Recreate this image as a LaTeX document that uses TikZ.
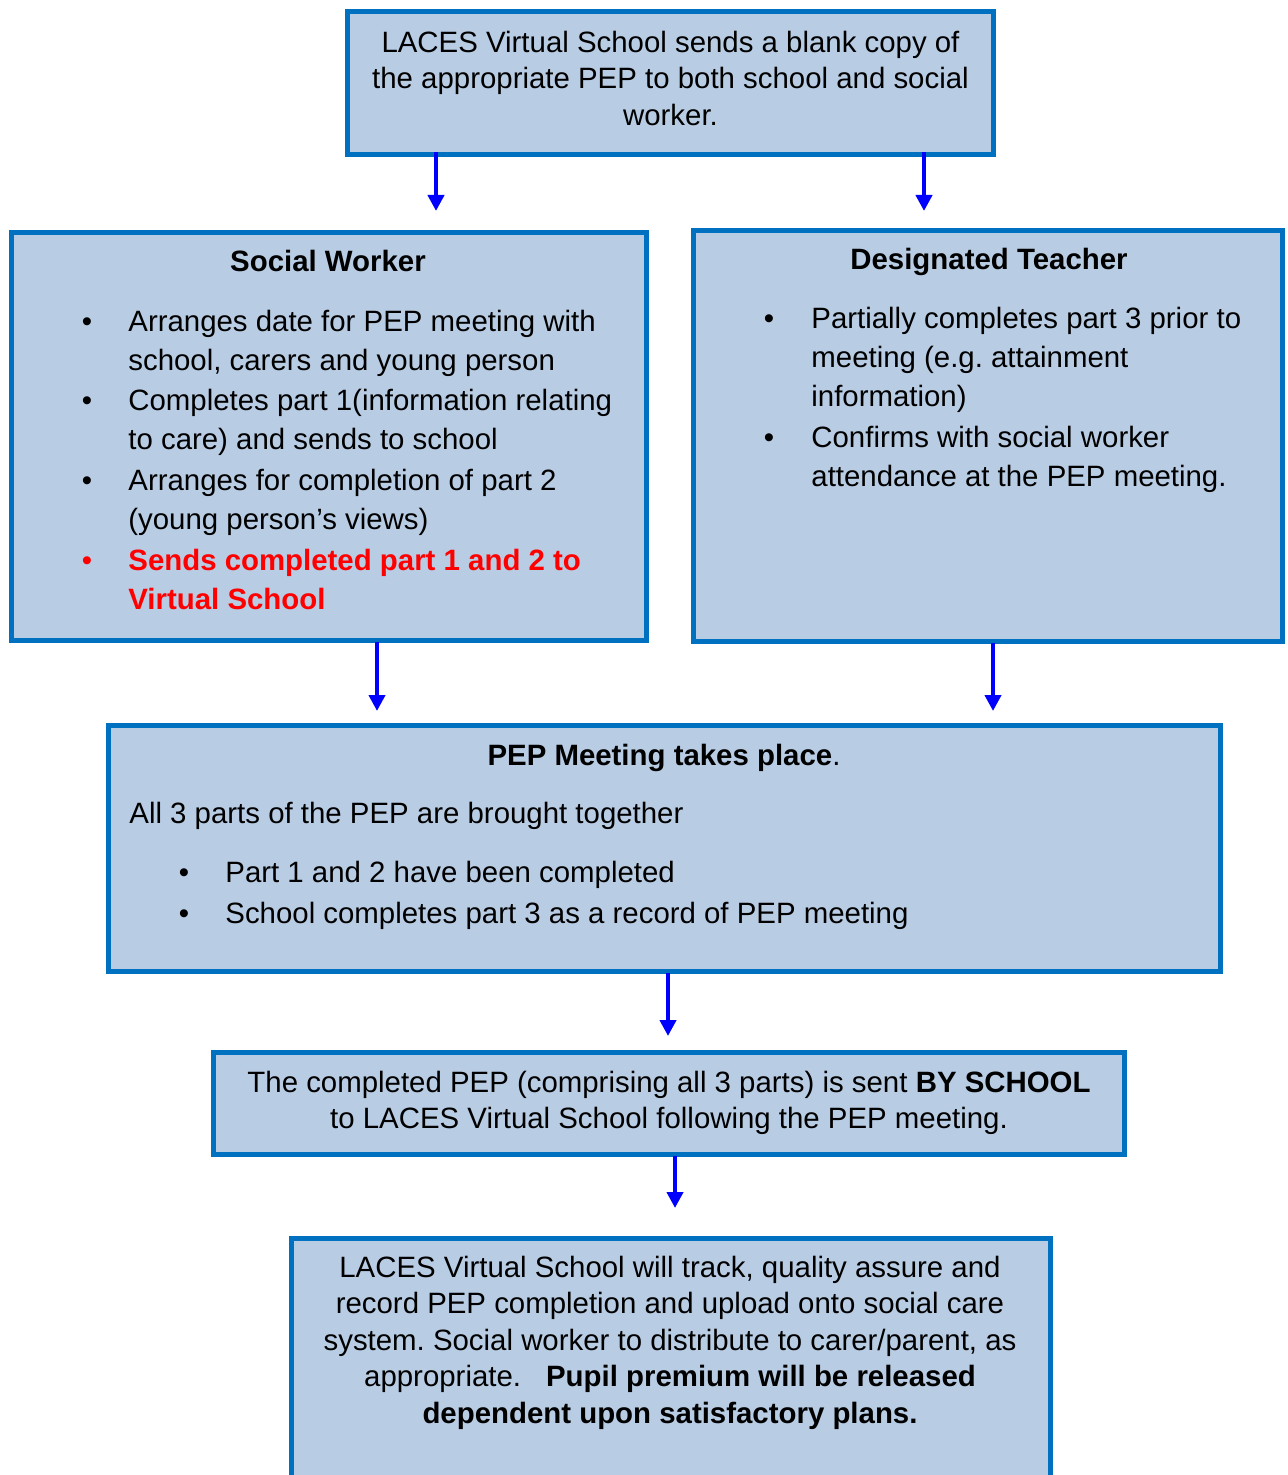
\documentclass[tikz,border=0pt]{standalone}
\usepackage{fontspec}
\setmainfont{Liberation Sans}
\frenchspacing
\usetikzlibrary{arrows.meta}
\definecolor{boxline}{HTML}{0070C0}
\definecolor{boxfill}{HTML}{B8CCE4}
\definecolor{arrblue}{HTML}{0000FF}
\definecolor{redtxt}{HTML}{FF0000}
\tikzset{
  flowbox/.style={draw=boxline, fill=boxfill, line width=2.5pt, inner sep=0pt},
  txt/.style={inner sep=0pt, anchor=base, font=\fontsize{14.7}{17}\selectfont},
  txtl/.style={txt, anchor=base west},
  bul/.style={txt},
  flowarr/.style={draw=arrblue, line width=2pt, -{Triangle[width=8pt,length=8pt]}},
}
\begin{document}
\begin{tikzpicture}[x=0.5pt,y=-0.5pt]
\useasboundingbox (0,0) rectangle (1287,1475);
% boxes
\path[flowbox] (347.5,11.5) rectangle (993.5,154.5);
\node[inner sep=0pt, minimum width=323pt, minimum height=71.5pt] (top) at (670.5,83) {};
\path[flowbox] (11.5,232.5) rectangle (646.5,640.5);
\node[inner sep=0pt, minimum width=317.5pt, minimum height=204pt] (sw) at (329,436.5) {};
\path[flowbox] (693.5,230.5) rectangle (1282.5,641.5);
\node[inner sep=0pt, minimum width=294.5pt, minimum height=205.5pt] (dt) at (988,436) {};
\path[flowbox] (108.5,725.5) rectangle (1220.5,971.5);
\node[inner sep=0pt, minimum width=556pt, minimum height=123pt] (pep) at (664.5,848.5) {};
\path[flowbox] (213.5,1052.5) rectangle (1124.5,1154.5);
\node[inner sep=0pt, minimum width=455.5pt, minimum height=51pt] (done) at (669,1103.5) {};
\path[flowbox] (291.5,1238.5) rectangle (1050.5,1500);
\node[inner sep=0pt, minimum width=379.5pt, minimum height=130pt] (track) at (671,1369) {};

% top text
\node[txt] (t1) at (670.5,53) {LACES Virtual School sends a blank copy of};
\node[txt] (t2) at (670.5,89) {the appropriate PEP to both school and social};
\node[txt] (t3) at (670.5,126) {worker.};

% social worker
\node[txt] (swh) at (328,272) {\bfseries Social Worker};
\node[bul] (swb1) at (87,332) {•};
\node[txtl] (sw1) at (128,332) {Arranges date for PEP meeting with};
\node[txtl] (sw2) at (128,371) {school, carers and young person};
\node[bul] (swb2) at (87,411) {•};
\node[txtl] (sw3) at (128,411) {Completes part 1(information relating};
\node[txtl] (sw4) at (128,450) {to care) and sends to school};
\node[bul] (swb3) at (87,491) {•};
\node[txtl] (sw5) at (128,491) {Arranges for completion of part 2};
\node[txtl] (sw6) at (128,530) {(young person’s views)};
\node[bul, text=redtxt] (swb4) at (87,570) {•};
\node[txtl, text=redtxt] (sw7) at (128,570) {\bfseries Sends completed part 1 and 2 to};
\node[txtl, text=redtxt] (sw8) at (128,609) {\bfseries Virtual School};

% designated teacher
\node[txt] (dth) at (989,270) {\bfseries Designated Teacher};
\node[bul] (dtb1) at (769,329) {•};
\node[txtl] (dt1) at (811,329) {Partially completes part 3 prior to};
\node[txtl] (dt2) at (811,368) {meeting (e.g. attainment};
\node[txtl] (dt3) at (811,407) {information)};
\node[bul] (dtb2) at (769,448) {•};
\node[txtl] (dt4) at (811,448) {Confirms with social worker};
\node[txtl] (dt5) at (811,487) {attendance at the PEP meeting.};

% PEP meeting
\node[txt] (peph) at (664,765) {\bfseries PEP Meeting takes place\mdseries.};
\node[txtl] (pep1) at (129,823) {All 3 parts of the PEP are brought together};
\node[bul] (pepb1) at (184,882) {•};
\node[txtl] (pep2) at (225,882) {Part 1 and 2 have been completed};
\node[bul] (pepb2) at (184,923) {•};
\node[txtl] (pep3) at (225,923) {School completes part 3 as a record of PEP meeting};

% completed PEP
\node[txt] (d1) at (669,1092) {The completed PEP (comprising all 3 parts) is sent \textbf{BY SCHOOL}};
\node[txt] (d2) at (669,1128) {to LACES Virtual School following the PEP meeting.};

% tracking
\node[txt] (k1) at (670,1277) {LACES Virtual School will track, quality assure and};
\node[txt] (k2) at (670,1313) {record PEP completion and upload onto social care};
\node[txt] (k3) at (670,1350) {system. Social worker to distribute to carer/parent, as};
\node[txt] (k4) at (670,1386) {appropriate.\hspace{0.85em}\textbf{Pupil premium will be released}};
\node[txt] (k5) at (670,1423) {\bfseries dependent upon satisfactory plans.};

% arrows
\coordinate (a1) at (436,211);
\coordinate (a2) at (924,211);
\coordinate (a3) at (377,711);
\coordinate (a4) at (993,711);
\coordinate (a5) at (668,1036);
\coordinate (a6) at (675,1208);
\draw[flowarr] ([yshift=1.25pt]top.south -| a1) -- (a1);
\draw[flowarr] ([yshift=1.25pt]top.south -| a2) -- (a2);
\draw[flowarr] (sw.south -| a3) ++(0,1) -- (a3);
\draw[flowarr] (dt.south -| a4) ++(0,1) -- (a4);
\draw[flowarr] (pep.south -| a5) ++(0,1) -- (a5);
\draw[flowarr] (done.south -| a6) ++(0,1) -- (a6);
\end{tikzpicture}
\end{document}
